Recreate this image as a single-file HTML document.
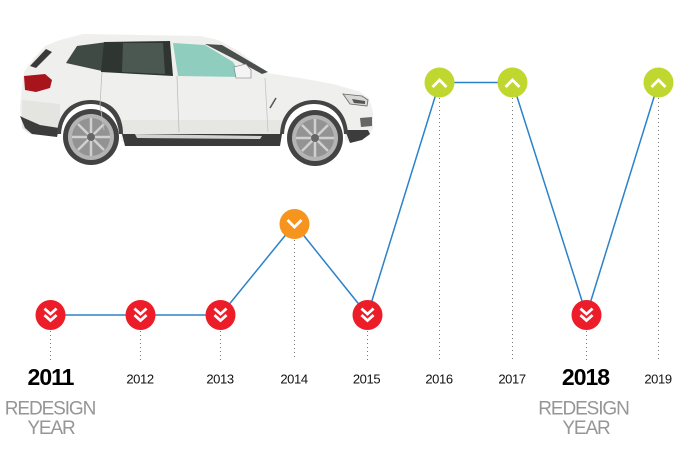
<!DOCTYPE html>
<html>
<head>
<meta charset="utf-8">
<style>
html,body{margin:0;padding:0;background:#fff;}
body{width:700px;height:468px;overflow:hidden;}
svg{display:block;}
text{font-family:"Liberation Sans",Arial,sans-serif;}
</style>
</head>
<body>
<svg width="700" height="468" viewBox="0 0 700 468" xmlns="http://www.w3.org/2000/svg">
  <!-- CAR -->
  <g>
    <!-- body -->
    <path d="M45,46 L60,40 L83,34 L200,36 L218,40 L240,52 L267,73 L300,78 L333,84 L358,91 L369,98 L373,112 L373,128 L369,136 L350,142 L345,140 L345,128 C340,110 325,102 312,102 C296,102 284,112 282,128 L280,142 L122,142 L120,128 C118,110 105,101 91,101 C75,101 63,112 60,125 L57,136 L30,134 L22,128 L20,108 L22,85 L24,72 L34,58 Z" fill="#efefed"/>
    <!-- lower body shading -->
    <path d="M22,100 L60,104 L60,125 L57,136 L30,134 L22,128 Z" fill="#e4e4e1"/>
    <path d="M122,120 L282,120 L282,135 L122,135 Z" fill="#e6e6e3"/>
    <!-- rear lower bumper dark -->
    <path d="M20,116 L25,128 L32,134 L57,137 L59,128 L40,125 L24,118 Z" fill="#3c3c3c"/>
    <!-- sill dark -->
    <path d="M122,134 L282,134 L280,146 L125,146 Z" fill="#3a3a3a"/>
    <path d="M135,134 L262,136 L260,139 L137,138 Z" fill="#d2d2d2"/>
    <!-- front lower dark -->
    <path d="M345,130 L350,143 L362,140 L370,134 L368,130 Z" fill="#3c3c3c"/>
    <path d="M360,118 L372,117 L372,126 L361,127 Z" fill="#666"/>
    <!-- wheel arch dark -->
    <path d="M57,134 C58,112 72,100 91,100 C110,100 123,112 123,134 L119,134 C118,115 106,104 91,104 C75,104 62,115 61,134 Z" fill="#444"/>
    <path d="M280,134 C281,112 296,100 314,100 C333,100 347,112 348,134 L344,134 C343,115 330,104 314,104 C298,104 285,115 284,134 Z" fill="#444"/>
    <!-- wheels -->
    <circle cx="91" cy="137" r="28" fill="#434343"/>
    <circle cx="91" cy="137" r="23" fill="#b4b4b4"/>
    <circle cx="91" cy="137" r="19" fill="#939393"/>
    <g stroke="#d0d0d0" stroke-width="2.5">
      <line x1="91" y1="118" x2="91" y2="156"/><line x1="72" y1="137" x2="110" y2="137"/>
      <line x1="78" y1="124" x2="104" y2="150"/><line x1="104" y1="124" x2="78" y2="150"/>
    </g>
    <circle cx="91" cy="137" r="4" fill="#666"/>
    <circle cx="315" cy="138" r="28" fill="#434343"/>
    <circle cx="315" cy="138" r="23" fill="#b4b4b4"/>
    <circle cx="315" cy="138" r="19" fill="#939393"/>
    <g stroke="#d0d0d0" stroke-width="2.5">
      <line x1="315" y1="119" x2="315" y2="157"/><line x1="296" y1="138" x2="334" y2="138"/>
      <line x1="302" y1="125" x2="328" y2="151"/><line x1="328" y1="125" x2="302" y2="151"/>
    </g>
    <circle cx="315" cy="138" r="4" fill="#666"/>
    <!-- windows -->
    <path d="M66,63 L77,46 L107,42 L102,71 Z" fill="#3f4a44"/>
    <path d="M104,42 L170,41 L173,76 L101,72 Z" fill="#2f3632"/>
    <path d="M123,43 L163,43 L165,74 L122,72 Z" fill="#4b5851"/>
    <path d="M173,43 L205,45 L233,62 L242,77 L178,76 Z" fill="#8fcdbf"/>
    <path d="M205,44 L222,45 L268,72 L262,74 L240,62 Z" fill="#4a4f4d"/>
    <!-- rear window edge -->
    <path d="M30,66 L46,49 L52,52 L36,68 Z" fill="#3a3a3a"/>
    <!-- mirror -->
    <path d="M234,67 L246,64 L251,70 L251,78 L236,78 Z" fill="#f4f4f4" stroke="#777" stroke-width="0.6"/>
    <!-- tail light -->
    <path d="M24,76 L45,74 L52,80 L50,88 L36,92 L25,90 Z" fill="#a8141c"/>
    <!-- headlight -->
    <path d="M343,94 L362,96 L368,100 L367,106 L350,104 Z" fill="#d6d6d6" stroke="#666" stroke-width="0.8"/>
    <path d="M352,99 L365,101 L365,104 L354,103 Z" fill="#555"/>
    <!-- door lines -->
    <path d="M102,72 L100,105 L104,130" stroke="#bdbdbd" stroke-width="0.8" fill="none"/>
    <path d="M177,76 L179,132" stroke="#bdbdbd" stroke-width="0.8" fill="none"/>
    <path d="M265,78 L268,132" stroke="#c4c4c4" stroke-width="0.8" fill="none"/>
    <path d="M270,108 L276,98" stroke="#555" stroke-width="1.5"/>
  </g>

  <!-- dotted guides -->
  <g stroke="#7a7a7a" stroke-width="1" stroke-dasharray="1 3">
    <line x1="50.5" y1="331" x2="50.5" y2="360"/>
    <line x1="140.5" y1="331" x2="140.5" y2="360"/>
    <line x1="220.5" y1="331" x2="220.5" y2="360"/>
    <line x1="294.5" y1="240" x2="294.5" y2="360"/>
    <line x1="367.5" y1="331" x2="367.5" y2="360"/>
    <line x1="439.5" y1="98" x2="439.5" y2="360"/>
    <line x1="512.5" y1="98" x2="512.5" y2="360"/>
    <line x1="586.5" y1="331" x2="586.5" y2="360"/>
    <line x1="658.5" y1="98" x2="658.5" y2="360"/>
  </g>

  <!-- connecting line -->
  <polyline points="50.5,315 140.5,315 220.5,315 294.5,224 367.5,315 439.5,82.5 512.5,82.5 586.5,315 658.5,82.5" fill="none" stroke="#2b82c9" stroke-width="1.5"/>

  <!-- red markers -->
  <g>
    <g fill="#ed1c29">
      <circle cx="50.5" cy="315" r="15"/>
      <circle cx="140.5" cy="315" r="15"/>
      <circle cx="220.5" cy="315" r="15"/>
      <circle cx="367.5" cy="315" r="15"/>
      <circle cx="586.5" cy="315" r="15"/>
    </g>
    <g fill="none" stroke="#fff" stroke-width="2.8" stroke-linecap="square">
      <path d="M45.5,309.5 L50.5,314 L55.5,309.5 M45.5,316 L50.5,320.5 L55.5,316"/>
      <path d="M135.5,309.5 L140.5,314 L145.5,309.5 M135.5,316 L140.5,320.5 L145.5,316"/>
      <path d="M215.5,309.5 L220.5,314 L225.5,309.5 M215.5,316 L220.5,320.5 L225.5,316"/>
      <path d="M362.5,309.5 L367.5,314 L372.5,309.5 M362.5,316 L367.5,320.5 L372.5,316"/>
      <path d="M581.5,309.5 L586.5,314 L591.5,309.5 M581.5,316 L586.5,320.5 L591.5,316"/>
    </g>
  </g>

  <!-- orange marker -->
  <circle cx="294.5" cy="224" r="15" fill="#f7941d"/>
  <path d="M288.5,221 L294.5,227 L300.5,221" fill="none" stroke="#fff" stroke-width="2.8" stroke-linecap="square"/>

  <!-- green markers -->
  <g fill="#c0d72f">
    <circle cx="439.5" cy="82.5" r="15"/>
    <circle cx="512.5" cy="82.5" r="15"/>
    <circle cx="658.5" cy="82.5" r="15"/>
  </g>
  <g fill="none" stroke="#fff" stroke-width="2.8" stroke-linecap="square">
    <path d="M433.5,86 L439.5,80 L445.5,86"/>
    <path d="M506.5,86 L512.5,80 L518.5,86"/>
    <path d="M652.5,86 L658.5,80 L664.5,86"/>
  </g>

  <!-- year labels -->
  <g font-size="13" fill="#111" text-anchor="middle" letter-spacing="-0.4">
    <text x="140" y="383.5">2012</text>
    <text x="220" y="383.5">2013</text>
    <text x="294" y="383.5">2014</text>
    <text x="366.5" y="383.5">2015</text>
    <text x="439" y="383.5">2016</text>
    <text x="512" y="383.5">2017</text>
    <text x="658" y="383.5">2019</text>
  </g>
  <g font-size="23" font-weight="bold" fill="#000" text-anchor="middle" letter-spacing="-1">
    <text x="50.5" y="385">2011</text>
    <text x="585.5" y="385">2018</text>
  </g>
  <g font-size="19" fill="#969696" text-anchor="middle" letter-spacing="-1.1">
    <text x="50" y="414.5">REDESIGN</text>
    <text x="51" y="434">YEAR</text>
    <text x="583.5" y="414.5">REDESIGN</text>
    <text x="586" y="434">YEAR</text>
  </g>
</svg>
</body>
</html>
